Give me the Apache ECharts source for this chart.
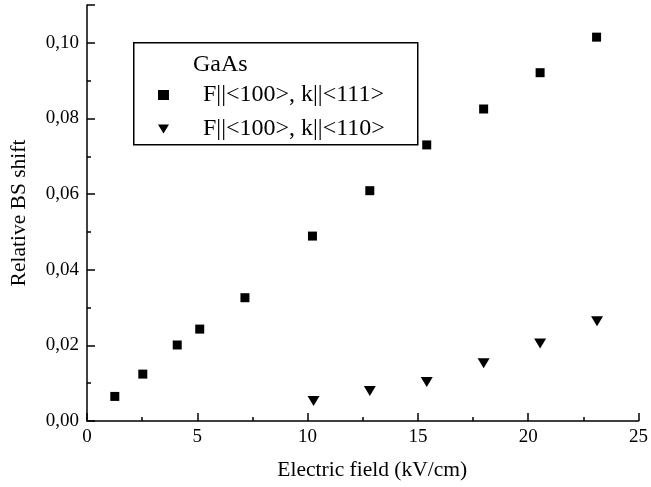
<!DOCTYPE html>
<html>
<head>
<meta charset="utf-8">
<script src="https://cdn.jsdelivr.net/npm/echarts@6/dist/echarts.min.js"></script>
<style>html,body{margin:0;padding:0;background:#fff;}#c{width:651px;height:487px;}</style>
</head>
<body>
<div id="c"></div>
<script>
const seriesNames = ['F||<100>, k||<111>', 'F||<100>, k||<110>'];
const legendTitle = 'GaAs';
const xName = 'Electric field (kV/cm)';
const yName = 'Relative BS shift';
const xA = [1.26, 2.53, 4.09, 5.11, 7.16, 10.22, 12.82, 15.4, 17.98, 20.54, 23.1];
const yA = [0.0065, 0.0124, 0.0201, 0.0243, 0.0326, 0.0489, 0.0609, 0.0730, 0.0825, 0.0921, 0.1015];
const xB = [10.27, 12.82, 15.4, 17.98, 20.54, 23.12];
const yB = [0.0053, 0.0079, 0.0103, 0.0153, 0.0205, 0.0264];

const font = 'Liberation Serif';
const downTri = 'path://M0,0L12,0L6,10Z';
const chart = echarts.init(document.getElementById('c'), null, {renderer: 'canvas'});
const axisCommon = {
  axisLine: {onZero: false, lineStyle: {color: '#000', width: 1.5}},
  axisTick: {inside: true, length: 8, lineStyle: {color: '#000', width: 1.5}},
  minorTick: {show: true, splitNumber: 2, length: 4, lineStyle: {color: '#000', width: 1.5}},
  splitLine: {show: false},
  nameLocation: 'middle',
  nameTextStyle: {fontFamily: font, fontSize: 21.5, color: '#000'}
};
chart.setOption({
  animation: false,
  backgroundColor: '#fff',
  grid: {left: 86, right: 9, top: 5, bottom: 66, containLabel: false},
  xAxis: Object.assign({}, axisCommon, {
    type: 'value', min: 0, max: 25, interval: 5,
    name: xName, nameGap: 38,
    nameTextStyle: {fontFamily: font, fontSize: 21.5, color: '#000', padding: [0, 0, 0, 19]},
    axisLabel: {fontFamily: font, fontSize: 19, color: '#000', margin: 7}
  }),
  yAxis: Object.assign({}, axisCommon, {
    type: 'value', min: 0, max: 0.11, interval: 0.02,
    name: yName, nameGap: 57,
    axisLabel: {fontFamily: font, fontSize: 19, color: '#000', margin: 8, showMaxLabel: false,
      formatter: v => v.toFixed(2).replace('.', ',')}
  }),
  legend: {
    data: [
      {name: seriesNames[0], icon: 'rect', itemStyle: {opacity: 1}},
      {name: seriesNames[1], icon: downTri, itemStyle: {opacity: 1}}
    ],
    orient: 'vertical',
    left: 158, top: 83,
    padding: 0,
    itemWidth: 11, itemHeight: 10,
    itemGap: 10,
    textStyle: {fontFamily: font, fontSize: 24, color: '#000', lineHeight: 23, padding: [0, 0, 0, 29]}
  },
  graphic: [
    {type: 'rect', left: 133, top: 42, z: 0, shape: {width: 284, height: 102},
     style: {fill: 'rgba(0,0,0,0)', stroke: '#000', lineWidth: 1.5}},
    {type: 'text', left: 193, top: 53, style: {text: legendTitle, fontFamily: font, fontSize: 24, fill: '#000'}}
  ],
  series: [
    {name: seriesNames[0], type: 'scatter', symbol: 'rect', symbolSize: 9,
     itemStyle: {color: '#000', opacity: 1}, data: xA.map((x, i) => [x, yA[i]])},
    {name: seriesNames[1], type: 'scatter', symbol: downTri, symbolSize: [12, 10],
     itemStyle: {color: '#000', opacity: 1}, data: xB.map((x, i) => [x, yB[i]])}
  ]
});
</script>
</body>
</html>
